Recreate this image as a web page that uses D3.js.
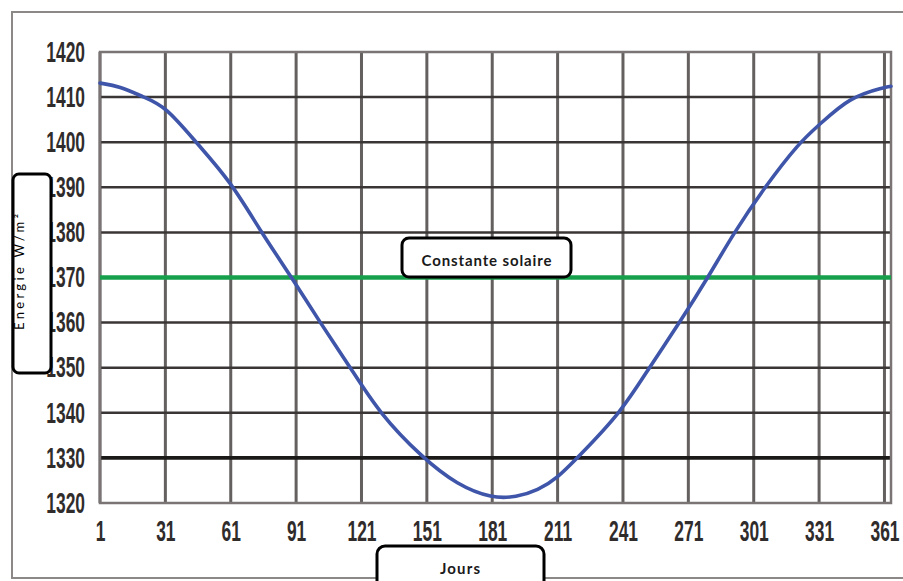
<!DOCTYPE html>
<html>
<head>
<meta charset="utf-8">
<script src="https://cdn.jsdelivr.net/npm/d3@7"></script>
<style>
  body { margin: 0; background: #fff; }
  svg { display: block; }
</style>
</head>
<body>
<svg id="chart" width="903" height="581"></svg>
<script>
// Solar irradiance over the year (day of year -> W/m²)
const days   = [1, 10, 21, 31, 45, 61, 75, 89, 102, 116, 129, 149, 165, 181, 192, 202, 211, 220, 240, 253, 267, 280, 292, 306, 322, 331, 345, 361, 364];
const energy = [1413.1, 1412.4, 1410, 1408, 1400, 1391.3, 1380, 1370, 1360, 1350, 1340, 1330, 1324, 1321, 1321.3, 1322.8, 1325.6, 1330, 1340, 1350, 1360, 1370, 1380, 1390, 1400, 1403.8, 1410, 1412.2, 1412.4];

const xTicks = [1, 31, 61, 91, 121, 151, 181, 211, 241, 271, 301, 331, 361];
const yTicks = [1320, 1330, 1340, 1350, 1360, 1370, 1380, 1390, 1400, 1410, 1420];

const solarConstant = 1370;
const emphasisLevel = 1330;

const yTitle = "Energie W/m²";
const xTitle = "Jours";
const refTitle = "Constante solaire";

const svg = d3.select("#chart");
const plotLeft = 100, plotRight = 891, plotTop = 52, plotBottom = 503;

const x = d3.scaleLinear().domain([1, 364]).range([plotLeft, plotRight]);
const y = d3.scaleLinear().domain([1320, 1420]).range([plotBottom, plotTop]);

const tickFont = "'Liberation Sans', Arial, sans-serif";
const boxFont = "Lato, 'Open Sans', sans-serif";
const sx = 0.6; // horizontal squeeze for the condensed tick numerals

// outer frame
svg.append("rect")
  .attr("x", 12).attr("y", 12).attr("width", 900).attr("height", 566)
  .attr("fill", "none").attr("stroke", "#8c8888").attr("stroke-width", 2);

// vertical grid
svg.append("g").selectAll("line").data(xTicks).join("line")
  .attr("x1", d => x(d)).attr("x2", d => x(d))
  .attr("y1", plotTop).attr("y2", plotBottom)
  .attr("stroke", "#656060").attr("stroke-width", 3);

// horizontal grid
svg.append("g").selectAll("line")
  .data(yTicks.filter(v => v > 1320 && v < 1420 && v !== solarConstant)).join("line")
  .attr("x1", plotLeft).attr("x2", plotRight)
  .attr("y1", d => y(d)).attr("y2", d => y(d))
  .attr("stroke", d => d === emphasisLevel ? "#1c1919" : "#3b3636")
  .attr("stroke-width", d => d === emphasisLevel ? 3.6 : 2.5);

// plot border
svg.append("rect")
  .attr("x", plotLeft).attr("y", plotTop)
  .attr("width", plotRight - plotLeft).attr("height", plotBottom - plotTop)
  .attr("fill", "none").attr("stroke", "#7a7474").attr("stroke-width", 2.5);

// solar constant reference line
svg.append("line")
  .attr("x1", plotLeft).attr("x2", plotRight)
  .attr("y1", y(solarConstant)).attr("y2", y(solarConstant))
  .attr("stroke", "#16a04b").attr("stroke-width", 4.5);

// irradiance curve
const line = d3.line()
  .x((d, i) => x(days[i]))
  .y(d => y(d))
  .curve(d3.curveBasis);

svg.append("path")
  .datum(energy)
  .attr("d", line)
  .attr("fill", "none")
  .attr("stroke", "#3e55a9")
  .attr("stroke-width", 3.6)
  .attr("stroke-linejoin", "round")
  .attr("stroke-linecap", "round");

// y axis numerals
const yAxis = svg.append("g")
  .attr("transform", `translate(${plotLeft},0)`)
  .call(d3.axisLeft(y).tickValues(yTicks).tickSize(0).tickFormat(d3.format("d")));
yAxis.select(".domain").remove();
yAxis.selectAll("text")
  .attr("x", -15 / sx)
  .attr("transform", `scale(${sx},1)`)
  .attr("font-family", tickFont)
  .attr("font-weight", "bold")
  .attr("font-size", 29)
  .attr("fill", "#302c2c");

// x axis numerals
const xAxis = svg.append("g")
  .attr("transform", `translate(0,${plotBottom})`)
  .call(d3.axisBottom(x).tickValues(xTicks).tickSize(0).tickPadding(17).tickFormat(d3.format("d")));
xAxis.select(".domain").remove();
xAxis.selectAll("text")
  .attr("transform", `scale(${sx},1)`)
  .attr("font-family", tickFont)
  .attr("font-weight", "bold")
  .attr("font-size", 29)
  .attr("fill", "#302c2c");

// y axis title box
svg.append("rect")
  .attr("x", 13).attr("y", 174).attr("width", 38).attr("height", 199).attr("rx", 6)
  .attr("fill", "#fff").attr("stroke", "#000").attr("stroke-width", 3);
svg.append("text")
  .attr("transform", "translate(24,272) rotate(-90)")
  .attr("text-anchor", "middle")
  .attr("font-family", boxFont)
  .attr("font-size", 13)
  .attr("textLength", 116)
  .attr("lengthAdjust", "spacing")
  .attr("fill", "#000")
  .text(yTitle);

// reference line caption box
svg.append("rect")
  .attr("x", 402).attr("y", 238).attr("width", 169).attr("height", 39).attr("rx", 7)
  .attr("fill", "#fff").attr("stroke", "#000").attr("stroke-width", 3);
svg.append("text")
  .attr("x", 486.5).attr("y", 266)
  .attr("text-anchor", "middle")
  .attr("font-family", boxFont)
  .attr("font-weight", "bold")
  .attr("font-size", 15)
  .attr("textLength", 130)
  .attr("lengthAdjust", "spacing")
  .attr("fill", "#1a1a1a")
  .text(refTitle);

// x axis title box
svg.append("rect")
  .attr("x", 377).attr("y", 546).attr("width", 167).attr("height", 50).attr("rx", 8)
  .attr("fill", "#fff").attr("stroke", "#000").attr("stroke-width", 3);
svg.append("text")
  .attr("x", 460).attr("y", 574)
  .attr("text-anchor", "middle")
  .attr("font-family", boxFont)
  .attr("font-weight", "bold")
  .attr("font-size", 15)
  .attr("textLength", 40)
  .attr("lengthAdjust", "spacing")
  .attr("fill", "#1a1a1a")
  .text(xTitle);
</script>
</body>
</html>
